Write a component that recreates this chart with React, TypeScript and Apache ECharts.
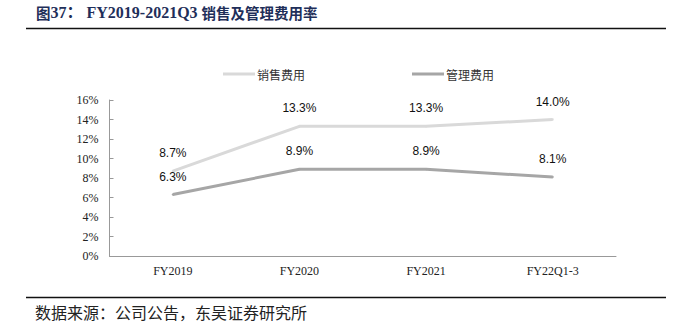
import React, { useEffect, useRef } from "react";
import * as echarts from "echarts";

const categories = ["FY2019", "FY2020", "FY2021", "FY22Q1-3"];
const salesRate = [8.7, 13.3, 13.3, 14.0];
const adminRate = [6.3, 8.9, 8.9, 8.1];
const seriesNames = ["销售费用", "管理费用"];
const seriesColors = ["#d9d9d9", "#a6a6a6"];
const titleParts = ["图", "37：", "FY2019-2021Q3 ", "销售及管理费用率"];
const sourceText = "数据来源：公司公告，东吴证券研究所";

export default function App() {
  const ref = useRef<HTMLDivElement>(null);
  useEffect(() => {
    if (!ref.current) return;
    const chart = echarts.init(ref.current, null, { renderer: "svg" });
    const serif = '"Liberation Serif", "Noto Sans CJK SC", serif';
    const cjk = '"Noto Sans CJK SC", sans-serif';
    const labelStyle = {
      show: true,
      position: "top" as const,
      distance: 11,
      fontFamily: '"Liberation Sans", Arial, sans-serif',
      fontSize: 12,
      color: "#111",
      formatter: (p: any) => Number(p.value).toFixed(1) + "%",
    };
    const mkSeries = (i: number, data: number[]) => ({
      name: seriesNames[i],
      type: "line",
      data,
      showSymbol: true,
      symbol: "circle",
      symbolSize: 2,
      color: seriesColors[i],
      itemStyle: { color: seriesColors[i] },
      lineStyle: { color: seriesColors[i], width: 3 },
      label: labelStyle,
    });
    chart.setOption({
      animation: false,
      backgroundColor: "#fff",
      grid: { left: 109.5, right: 58, top: 100, bottom: 70, containLabel: false },
      legend: {
        left: 218,
        top: 63,
        itemWidth: 32,
        itemHeight: 3,
        itemGap: 107,
        icon: "rect",
        textStyle: {
          fontFamily: cjk,
          fontSize: 12,
          color: "#333",
          padding: [0, 0, 0, -3],
        },
        data: seriesNames.map((n, i) => ({ name: n, itemStyle: { color: seriesColors[i] } })),
      },
      xAxis: {
        type: "category",
        data: categories,
        boundaryGap: true,
        axisLine: { lineStyle: { color: "#999", width: 1 } },
        axisTick: { inside: true, length: 4, lineStyle: { color: "#999" } },
        axisLabel: {
          fontFamily: serif,
          fontSize: 12,
          color: "#222",
          margin: 9,
        },
        splitLine: { show: false },
      },
      yAxis: {
        type: "value",
        min: 0,
        max: 16,
        interval: 2,
        axisLine: { show: true, lineStyle: { color: "#999", width: 1 } },
        axisTick: { show: true, inside: true, length: 4, lineStyle: { color: "#999" } },
        axisLabel: {
          fontFamily: serif,
          fontSize: 12,
          color: "#222",
          margin: 11,
          formatter: "{value}%",
        },
        splitLine: { show: false },
      },
      series: [mkSeries(0, salesRate), mkSeries(1, adminRate)],
      graphic: [
        {
          type: "text",
          left: 36,
          top: 4,
          style: {
            text:
              "{c|" + titleParts[0] + "}{l|" + titleParts[1] + "}{s| }{l|" +
              titleParts[2] + "}{c|" + titleParts[3] + "}",
            fill: "#1f2f5a",
            rich: {
              c: { fontFamily: cjk, fontWeight: "bold", fontSize: 14.5, fill: "#1f2f5a", lineHeight: 20 },
              l: { fontFamily: serif, fontWeight: "bold", fontSize: 16, fill: "#1f2f5a", lineHeight: 20 },
              s: { fontFamily: serif, fontSize: 16, width: 4, lineHeight: 20 },
            },
          },
        },
        {
          type: "line",
          shape: { x1: 26, y1: 28.5, x2: 666, y2: 28.5 },
          style: { stroke: "#111", lineWidth: 1.5 },
        },
        {
          type: "line",
          shape: { x1: 26, y1: 297.5, x2: 666, y2: 297.5 },
          style: { stroke: "#111", lineWidth: 1.5 },
        },
        {
          type: "text",
          left: 35,
          top: 304,
          style: {
            text: sourceText,
            fontFamily: cjk,
            fontSize: 16,
            fill: "#222",
          },
        },
      ],
    });
    return () => chart.dispose();
  }, []);
  return <div ref={ref} style={{ width: 674, height: 326, position: "absolute", left: 0, top: 0 }} />;
}
